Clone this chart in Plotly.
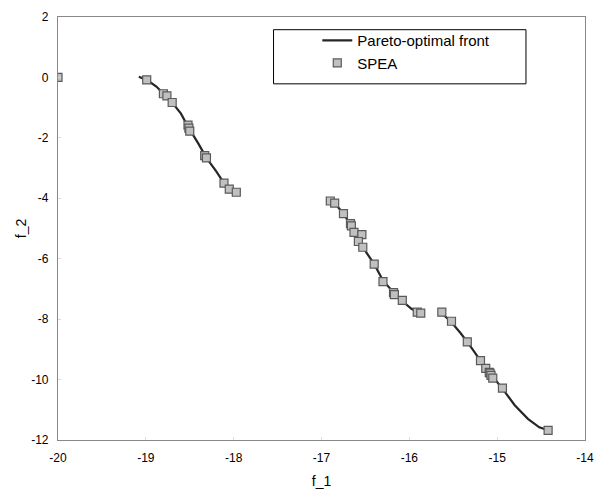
import plotly.graph_objects as go

# Pareto-optimal front (three disconnected segments)
front_seg1_x = [-19.08, -18.99, -18.88, -18.80, -18.70, -18.60, -18.51, -18.40, -18.31, -18.20, -18.11, -18.05, -17.97]
front_seg1_y = [0.02, -0.08, -0.30, -0.54, -0.83, -1.20, -1.68, -2.20, -2.66, -3.10, -3.50, -3.70, -3.80]
front_seg2_x = [-16.93, -16.85, -16.75, -16.66, -16.58, -16.50, -16.40, -16.30, -16.18, -16.08, -15.98, -15.90, -15.86]
front_seg2_y = [-4.05, -4.16, -4.51, -4.91, -5.40, -5.75, -6.18, -6.72, -7.12, -7.40, -7.65, -7.78, -7.80]
front_seg3_x = [-15.66, -15.53, -15.42, -15.34, -15.19, -15.08, -14.94, -14.80, -14.65, -14.52, -14.42]
front_seg3_y = [-7.74, -8.07, -8.45, -8.75, -9.37, -9.80, -10.30, -10.85, -11.30, -11.58, -11.68]

# SPEA solutions
spea_x = [-20.00, -18.99, -18.80, -18.76, -18.70, -18.52, -18.51, -18.50, -18.33, -18.31, -18.11, -18.05, -17.97,
          -16.90, -16.85, -16.75, -16.67, -16.66, -16.63, -16.54, -16.58, -16.53, -16.40, -16.30, -16.18, -16.17,
          -16.08, -15.91, -15.87,
          -15.63, -15.52, -15.34, -15.19, -15.13, -15.09, -15.08, -15.07, -15.05, -14.94, -14.42]
spea_y = [0.00, -0.08, -0.54, -0.61, -0.83, -1.58, -1.68, -1.78, -2.59, -2.66, -3.50, -3.70, -3.80,
          -4.09, -4.16, -4.51, -4.84, -4.91, -5.13, -5.20, -5.43, -5.62, -6.18, -6.76, -7.12, -7.19,
          -7.38, -7.77, -7.80,
          -7.77, -8.07, -8.75, -9.37, -9.63, -9.76, -9.79, -9.86, -9.95, -10.28, -11.68]

x_ticks = [-20, -19, -18, -17, -16, -15, -14]
y_ticks = [2, 0, -2, -4, -6, -8, -10, -12]

line_x = front_seg1_x + [None] + front_seg2_x + [None] + front_seg3_x
line_y = front_seg1_y + [None] + front_seg2_y + [None] + front_seg3_y

fig = go.Figure()
fig.add_trace(go.Scatter(
    x=line_x, y=line_y, mode="lines", name="Pareto-optimal front",
    line=dict(color="#262626", width=2.2), connectgaps=False))
fig.add_trace(go.Scatter(
    x=spea_x, y=spea_y, mode="markers", name="SPEA",
    marker=dict(symbol="square", size=8, color="#c0c0c0",
                line=dict(color="#5a5a5a", width=1.2))))

font = dict(family="Liberation Sans, Arial, sans-serif", size=12, color="#000000")
fig.update_layout(
    width=604, height=496,
    margin=dict(l=58, r=18, t=10, b=55),
    paper_bgcolor="white", plot_bgcolor="white",
    font=font,
    showlegend=True,
    legend=dict(x=0.492, y=0.983, xanchor="left", yanchor="top",
                borderwidth=0, bgcolor="rgba(0,0,0,0)",
                font=dict(family="Liberation Sans, Arial, sans-serif", size=15),
                itemwidth=30, tracegroupgap=0),
    shapes=[dict(type="rect", xref="paper", yref="paper",
                 x0=0.409, x1=0.888, y0=0.842, y1=0.970,
                 line=dict(color="#000000", width=1), fillcolor="white", layer="below")],
)
fig.update_xaxes(range=[-20, -14], tickvals=x_ticks, ticktext=[str(v) for v in x_ticks],
                 showgrid=False, zeroline=False, showline=True, linecolor="#888888", linewidth=1.2,
                 mirror=True, ticks="inside", ticklen=3, tickcolor="#dddddd",
                 ticklabelstandoff=6,
                 title=dict(text="f_1", font=dict(size=14), standoff=12))
fig.update_yaxes(range=[-12, 2], tickvals=y_ticks, ticktext=[str(v) for v in y_ticks],
                 showgrid=False, zeroline=False, showline=True, linecolor="#888888", linewidth=1.2,
                 mirror=True, ticks="inside", ticklen=3, tickcolor="#dddddd",
                 ticklabelstandoff=6,
                 title=dict(text="f_2", font=dict(size=14), standoff=1))

fig.write_html("out.html")
